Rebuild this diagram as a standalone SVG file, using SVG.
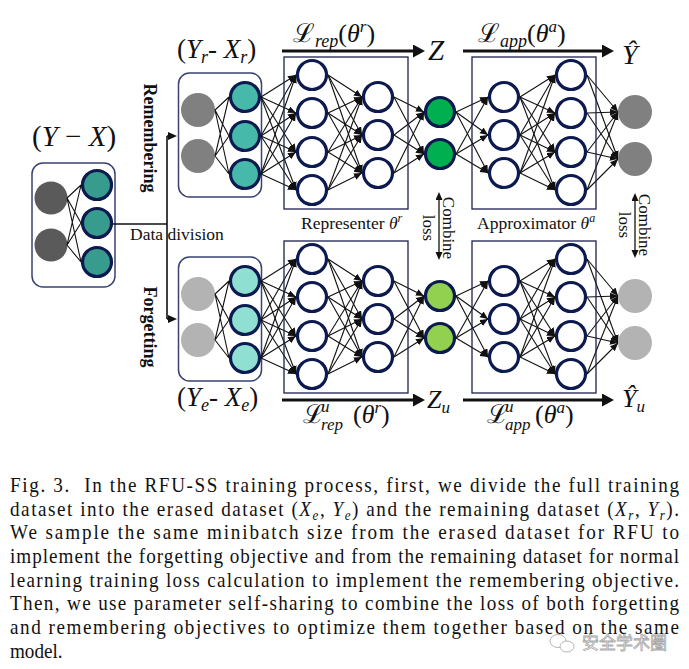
<svg xmlns="http://www.w3.org/2000/svg" xmlns:xlink="http://www.w3.org/1999/xlink" width="689" height="669" viewBox="0 0 689 669">
<style>
text{font-family:"Liberation Serif","DejaVu Serif",serif;fill:#111}
.it{font-style:italic}
.nd{stroke:#0c1a4f;stroke-width:3.2}
.w{fill:#fff}
.box{fill:none;stroke:#1c2050;stroke-width:1.3}
.rbox{fill:#fff;stroke:#3a4272;stroke-width:1.5}
.c{stroke:#111;stroke-width:1.1;fill:none;marker-end:url(#ah)}
.p{stroke:#111;stroke-width:1.1;fill:none}
.big{stroke:#111;stroke-width:3;fill:none;marker-end:url(#ahb)}
.dd{stroke:#111;stroke-width:1.6;fill:none}
.cl{stroke:#111;stroke-width:1.3;fill:none;marker-start:url(#ahc);marker-end:url(#ahc)}
.cap{font-size:22px}
</style>
<defs>
<marker id="ah" markerUnits="userSpaceOnUse" markerWidth="9" markerHeight="8" refX="8" refY="3.5" orient="auto"><path d="M0,0L8,3.5L0,7z" fill="#111"/></marker>
<marker id="ahb" markerUnits="userSpaceOnUse" markerWidth="13" markerHeight="14" refX="5" refY="6.5" orient="auto"><path d="M0,0L12,6.5L0,13z" fill="#111"/></marker>
<marker id="ahd" markerUnits="userSpaceOnUse" markerWidth="10" markerHeight="9" refX="5" refY="4" orient="auto"><path d="M0,0L9,4L0,8z" fill="#111"/></marker>
<marker id="ahc" markerUnits="userSpaceOnUse" markerWidth="9" markerHeight="8" refX="5" refY="3.5" orient="auto-start-reverse"><path d="M0,0L8,3.5L0,7z" fill="#111"/></marker>
<g id="netlinks">
<path class="c" d="M261 97L296 75"/><path class="c" d="M261 97L296 113"/><path class="c" d="M261 97L296 152"/><path class="c" d="M261 97L296 190"/>
<path class="c" d="M261 136L296 75"/><path class="c" d="M261 136L296 113"/><path class="c" d="M261 136L296 152"/><path class="c" d="M261 136L296 190"/>
<path class="c" d="M261 174L296 75"/><path class="c" d="M261 174L296 113"/><path class="c" d="M261 174L296 152"/><path class="c" d="M261 174L296 190"/>
<path class="c" d="M328 75L362 97"/><path class="c" d="M328 75L362 135"/><path class="c" d="M328 75L362 173"/>
<path class="c" d="M328 113L362 97"/><path class="c" d="M328 113L362 135"/><path class="c" d="M328 113L362 173"/>
<path class="c" d="M328 152L362 97"/><path class="c" d="M328 152L362 135"/><path class="c" d="M328 152L362 173"/>
<path class="c" d="M328 190L362 97"/><path class="c" d="M328 190L362 135"/><path class="c" d="M328 190L362 173"/>
<path class="c" d="M394 97L424 112"/><path class="c" d="M394 97L424 154"/>
<path class="c" d="M394 135L424 112"/><path class="c" d="M394 135L424 154"/>
<path class="c" d="M394 173L424 112"/><path class="c" d="M394 173L424 154"/>
<path class="c" d="M456 112L488 97"/><path class="c" d="M456 112L488 135"/><path class="c" d="M456 112L488 173"/>
<path class="c" d="M456 154L488 97"/><path class="c" d="M456 154L488 135"/><path class="c" d="M456 154L488 173"/>
<path class="c" d="M520 97L555 75"/><path class="c" d="M520 97L555 113"/><path class="c" d="M520 97L555 152"/><path class="c" d="M520 97L555 190"/>
<path class="c" d="M520 135L555 75"/><path class="c" d="M520 135L555 113"/><path class="c" d="M520 135L555 152"/><path class="c" d="M520 135L555 190"/>
<path class="c" d="M520 173L555 75"/><path class="c" d="M520 173L555 113"/><path class="c" d="M520 173L555 152"/><path class="c" d="M520 173L555 190"/>
<path class="c" d="M587 75L618 112"/><path class="c" d="M587 75L618 159"/>
<path class="c" d="M587 113L618 112"/><path class="c" d="M587 113L618 159"/>
<path class="c" d="M587 152L618 112"/><path class="c" d="M587 152L618 159"/>
<path class="c" d="M587 190L618 112"/><path class="c" d="M587 190L618 159"/>
<path class="p" d="M215 110L229 97M215 110L229 136M215 110L229 174M215 156L229 97M215 156L229 136M215 156L229 174"/>
</g>
</defs>
<rect width="689" height="669" fill="#fff"/>

<!-- node boxes -->
<g id="input-full">
<rect class="rbox" x="32" y="163" width="83" height="124" rx="11"/>
<circle cx="51" cy="198" r="16.5" fill="#5a5a5a"/><circle cx="51" cy="245" r="16.5" fill="#5a5a5a"/>
<path class="p" d="M67 198L81 185M67 198L81 223M67 198L81 262M67 245L81 185M67 245L81 223M67 245L81 262"/>
<circle class="nd" cx="97" cy="185" r="14.5" fill="#379b8d"/><circle class="nd" cx="97" cy="223" r="14.5" fill="#379b8d"/><circle class="nd" cx="97" cy="262" r="14.5" fill="#379b8d"/>
</g>
<g id="input-remember">
<rect class="rbox" x="178.5" y="73" width="83" height="124" rx="11"/>
<circle cx="198" cy="110" r="17" fill="#808080"/><circle cx="198" cy="156" r="17" fill="#808080"/>
<circle class="nd" cx="245" cy="97" r="14.5" fill="#46b9aa"/><circle class="nd" cx="245" cy="136" r="14.5" fill="#46b9aa"/><circle class="nd" cx="245" cy="174" r="14.5" fill="#46b9aa"/>
</g>
<g id="input-forget">
<rect class="rbox" x="178.5" y="257" width="83" height="124" rx="11"/>
<circle cx="198" cy="294" r="17" fill="#b3b3b3"/><circle cx="198" cy="340" r="17" fill="#b3b3b3"/>
<circle class="nd" cx="245" cy="281" r="14.5" fill="#8fe0d2"/><circle class="nd" cx="245" cy="320" r="14.5" fill="#8fe0d2"/><circle class="nd" cx="245" cy="358" r="14.5" fill="#8fe0d2"/>
</g>

<!-- connectors -->
<g id="connectors">
<use xlink:href="#netlinks"/>
<use xlink:href="#netlinks" transform="translate(0,184)"/>
<path class="dd" d="M113 224H167M167 136V319"/>
<path class="dd" d="M167 136H173" marker-end="url(#ahd)"/>
<path class="dd" d="M167 319H173" marker-end="url(#ahd)"/>
<path class="big" d="M282 51H418"/>
<path class="big" d="M463 51H607"/>
<path class="big" d="M282 400H418"/>
<path class="big" d="M463 400H607"/>
<path class="cl" d="M439 195V257"/>
<path class="cl" d="M635 196V255"/>
</g>

<g id="representer-r">
<rect class="box" x="284" y="57" width="124" height="152"/>
<circle class="nd w" cx="312" cy="75" r="14.5"/><circle class="nd w" cx="312" cy="113" r="14.5"/><circle class="nd w" cx="312" cy="152" r="14.5"/><circle class="nd w" cx="312" cy="190" r="14.5"/>
<circle class="nd w" cx="378" cy="97" r="14.5"/><circle class="nd w" cx="378" cy="135" r="14.5"/><circle class="nd w" cx="378" cy="173" r="14.5"/>
</g>
<g id="z-r"><circle class="nd" cx="440" cy="112" r="14.5" fill="#00b050"/><circle class="nd" cx="440" cy="154" r="14.5" fill="#00b050"/></g>
<g id="approximator-r">
<rect class="box" x="472" y="57" width="124" height="152"/>
<circle class="nd w" cx="504" cy="97" r="14.5"/><circle class="nd w" cx="504" cy="135" r="14.5"/><circle class="nd w" cx="504" cy="173" r="14.5"/>
<circle class="nd w" cx="571" cy="75" r="14.5"/><circle class="nd w" cx="571" cy="113" r="14.5"/><circle class="nd w" cx="571" cy="152" r="14.5"/><circle class="nd w" cx="571" cy="190" r="14.5"/>
</g>
<g id="output-r"><circle cx="635" cy="112" r="17" fill="#808080"/><circle cx="635" cy="159" r="17" fill="#808080"/></g>

<g id="representer-f">
<rect class="box" x="284" y="241" width="124" height="152"/>
<circle class="nd w" cx="312" cy="259" r="14.5"/><circle class="nd w" cx="312" cy="297" r="14.5"/><circle class="nd w" cx="312" cy="336" r="14.5"/><circle class="nd w" cx="312" cy="374" r="14.5"/>
<circle class="nd w" cx="378" cy="281" r="14.5"/><circle class="nd w" cx="378" cy="319" r="14.5"/><circle class="nd w" cx="378" cy="357" r="14.5"/>
</g>
<g id="z-f"><circle class="nd" cx="440" cy="296" r="14.5" fill="#92d050"/><circle class="nd" cx="440" cy="338" r="14.5" fill="#92d050"/></g>
<g id="approximator-f">
<rect class="box" x="472" y="241" width="124" height="152"/>
<circle class="nd w" cx="504" cy="281" r="14.5"/><circle class="nd w" cx="504" cy="319" r="14.5"/><circle class="nd w" cx="504" cy="357" r="14.5"/>
<circle class="nd w" cx="571" cy="259" r="14.5"/><circle class="nd w" cx="571" cy="297" r="14.5"/><circle class="nd w" cx="571" cy="336" r="14.5"/><circle class="nd w" cx="571" cy="374" r="14.5"/>
</g>
<g id="output-f"><circle cx="635" cy="296" r="17" fill="#b3b3b3"/><circle cx="635" cy="343" r="17" fill="#b3b3b3"/></g>

<!-- labels -->
<g id="labels">
<text x="32" y="146" font-size="29">(<tspan class="it">Y</tspan> − <tspan class="it">X</tspan>)</text>
<text x="177" y="58" font-size="27">(<tspan class="it">Y</tspan><tspan class="it" font-size="18" dy="5">r</tspan><tspan dy="-5">- </tspan><tspan class="it">X</tspan><tspan class="it" font-size="18" dy="5">r</tspan><tspan dy="-5">)</tspan></text>
<text x="177" y="406" font-size="27">(<tspan class="it">Y</tspan><tspan class="it" font-size="18" dy="5">e</tspan><tspan dy="-5">- </tspan><tspan class="it">X</tspan><tspan class="it" font-size="18" dy="5">e</tspan><tspan dy="-5">)</tspan></text>
<text x="130" y="240" font-size="17.5">Data division</text>
<text transform="translate(144,138) rotate(90)" text-anchor="middle" font-size="18" font-weight="bold">Remembering</text>
<text transform="translate(144,327) rotate(90)" text-anchor="middle" font-size="18" font-weight="bold">Forgetting</text>
<text x="301" y="229" font-size="17.5">Representer <tspan class="it">θ</tspan><tspan class="it" font-size="12" dy="-7">r</tspan></text>
<text x="477" y="229" font-size="17.5">Approximator <tspan class="it">θ</tspan><tspan class="it" font-size="12" dy="-7">a</tspan></text>
<g transform="translate(443,228) rotate(90)" font-size="17"><text text-anchor="middle">Combine</text><text text-anchor="middle" y="20">loss</text></g>
<g transform="translate(639,225) rotate(90)" font-size="17"><text text-anchor="middle">Combine</text><text text-anchor="middle" y="20">loss</text></g>
<text x="293" y="42" font-size="26">ℒ<tspan class="it" font-size="18" dy="5">rep</tspan><tspan dy="-5">(</tspan><tspan class="it">θ</tspan><tspan class="it" font-size="17" dy="-10">r</tspan><tspan dy="10">)</tspan></text>
<text x="478" y="42" font-size="26">ℒ<tspan class="it" font-size="18" dy="5">app</tspan><tspan dy="-5">(</tspan><tspan class="it">θ</tspan><tspan class="it" font-size="17" dy="-10">a</tspan><tspan dy="10">)</tspan></text>
<text x="428" y="60" font-size="29" class="it">Z</text>
<text x="622" y="64" font-size="28" class="it">Ŷ</text>
<text x="303" y="423" font-size="26">ℒ<tspan class="it" font-size="17" x="321" dy="-11">u</tspan><tspan class="it" font-size="17" x="321" dy="18">rep</tspan><tspan x="353" dy="-7">(</tspan><tspan class="it">θ</tspan><tspan class="it" font-size="17" dy="-10">r</tspan><tspan dy="10">)</tspan></text>
<text x="487" y="423" font-size="26">ℒ<tspan class="it" font-size="17" x="505" dy="-11">u</tspan><tspan class="it" font-size="17" x="505" dy="18">app</tspan><tspan x="535" dy="-7">(</tspan><tspan class="it">θ</tspan><tspan class="it" font-size="17" dy="-10">a</tspan><tspan dy="10">)</tspan></text>
<text x="427" y="408" font-size="26" class="it">Z<tspan font-size="17" dy="5">u</tspan></text>
<text x="622" y="407" font-size="26" class="it">Ŷ<tspan font-size="17" dy="5">u</tspan></text>
</g>

<!-- caption -->
<g id="caption" transform="scale(0.87,1)" class="cap">
<text x="11.5" y="492" textLength="769" lengthAdjust="spacing">Fig. 3. <tspan dx="8">In the RFU-SS training process, first, we divide the full training</tspan></text>
<text x="11.5" y="515.7" textLength="769" lengthAdjust="spacing">dataset into the erased dataset (<tspan class="it">X</tspan><tspan class="it" font-size="15" dy="4">e</tspan><tspan dy="-4">, </tspan><tspan class="it">Y</tspan><tspan class="it" font-size="15" dy="4">e</tspan><tspan dy="-4">) and the remaining dataset (</tspan><tspan class="it">X</tspan><tspan class="it" font-size="15" dy="4">r</tspan><tspan dy="-4">, </tspan><tspan class="it">Y</tspan><tspan class="it" font-size="15" dy="4">r</tspan><tspan dy="-4">).</tspan></text>
<text x="11.5" y="539.4" textLength="769" lengthAdjust="spacing">We sample the same minibatch size from the erased dataset for RFU to</text>
<text x="11.5" y="563" textLength="769" lengthAdjust="spacing">implement the forgetting objective and from the remaining dataset for normal</text>
<text x="11.5" y="587" textLength="769" lengthAdjust="spacing">learning training loss calculation to implement the remembering objective.</text>
<text x="11.5" y="610.5" textLength="769" lengthAdjust="spacing">Then, we use parameter self-sharing to combine the loss of both forgetting</text>
<text x="11.5" y="634.5" textLength="769" lengthAdjust="spacing">and remembering objectives to optimize them together based on the same</text>
<text x="11.5" y="658">model.</text>
</g>

<!-- watermark -->
<g id="watermark" opacity="0.85">
<ellipse cx="558" cy="641" rx="8" ry="6.5" fill="#fff" stroke="#a8a8a8" stroke-width="1"/>
<ellipse cx="567" cy="646.5" rx="7" ry="5.5" fill="#fff" stroke="#a8a8a8" stroke-width="1"/>
<text x="582" y="649" font-size="17" style="font-family:'Noto Sans CJK SC',sans-serif;fill:#fff;stroke:#9a9a9a;stroke-width:0.8">安全学术圈</text>
</g>
</svg>
